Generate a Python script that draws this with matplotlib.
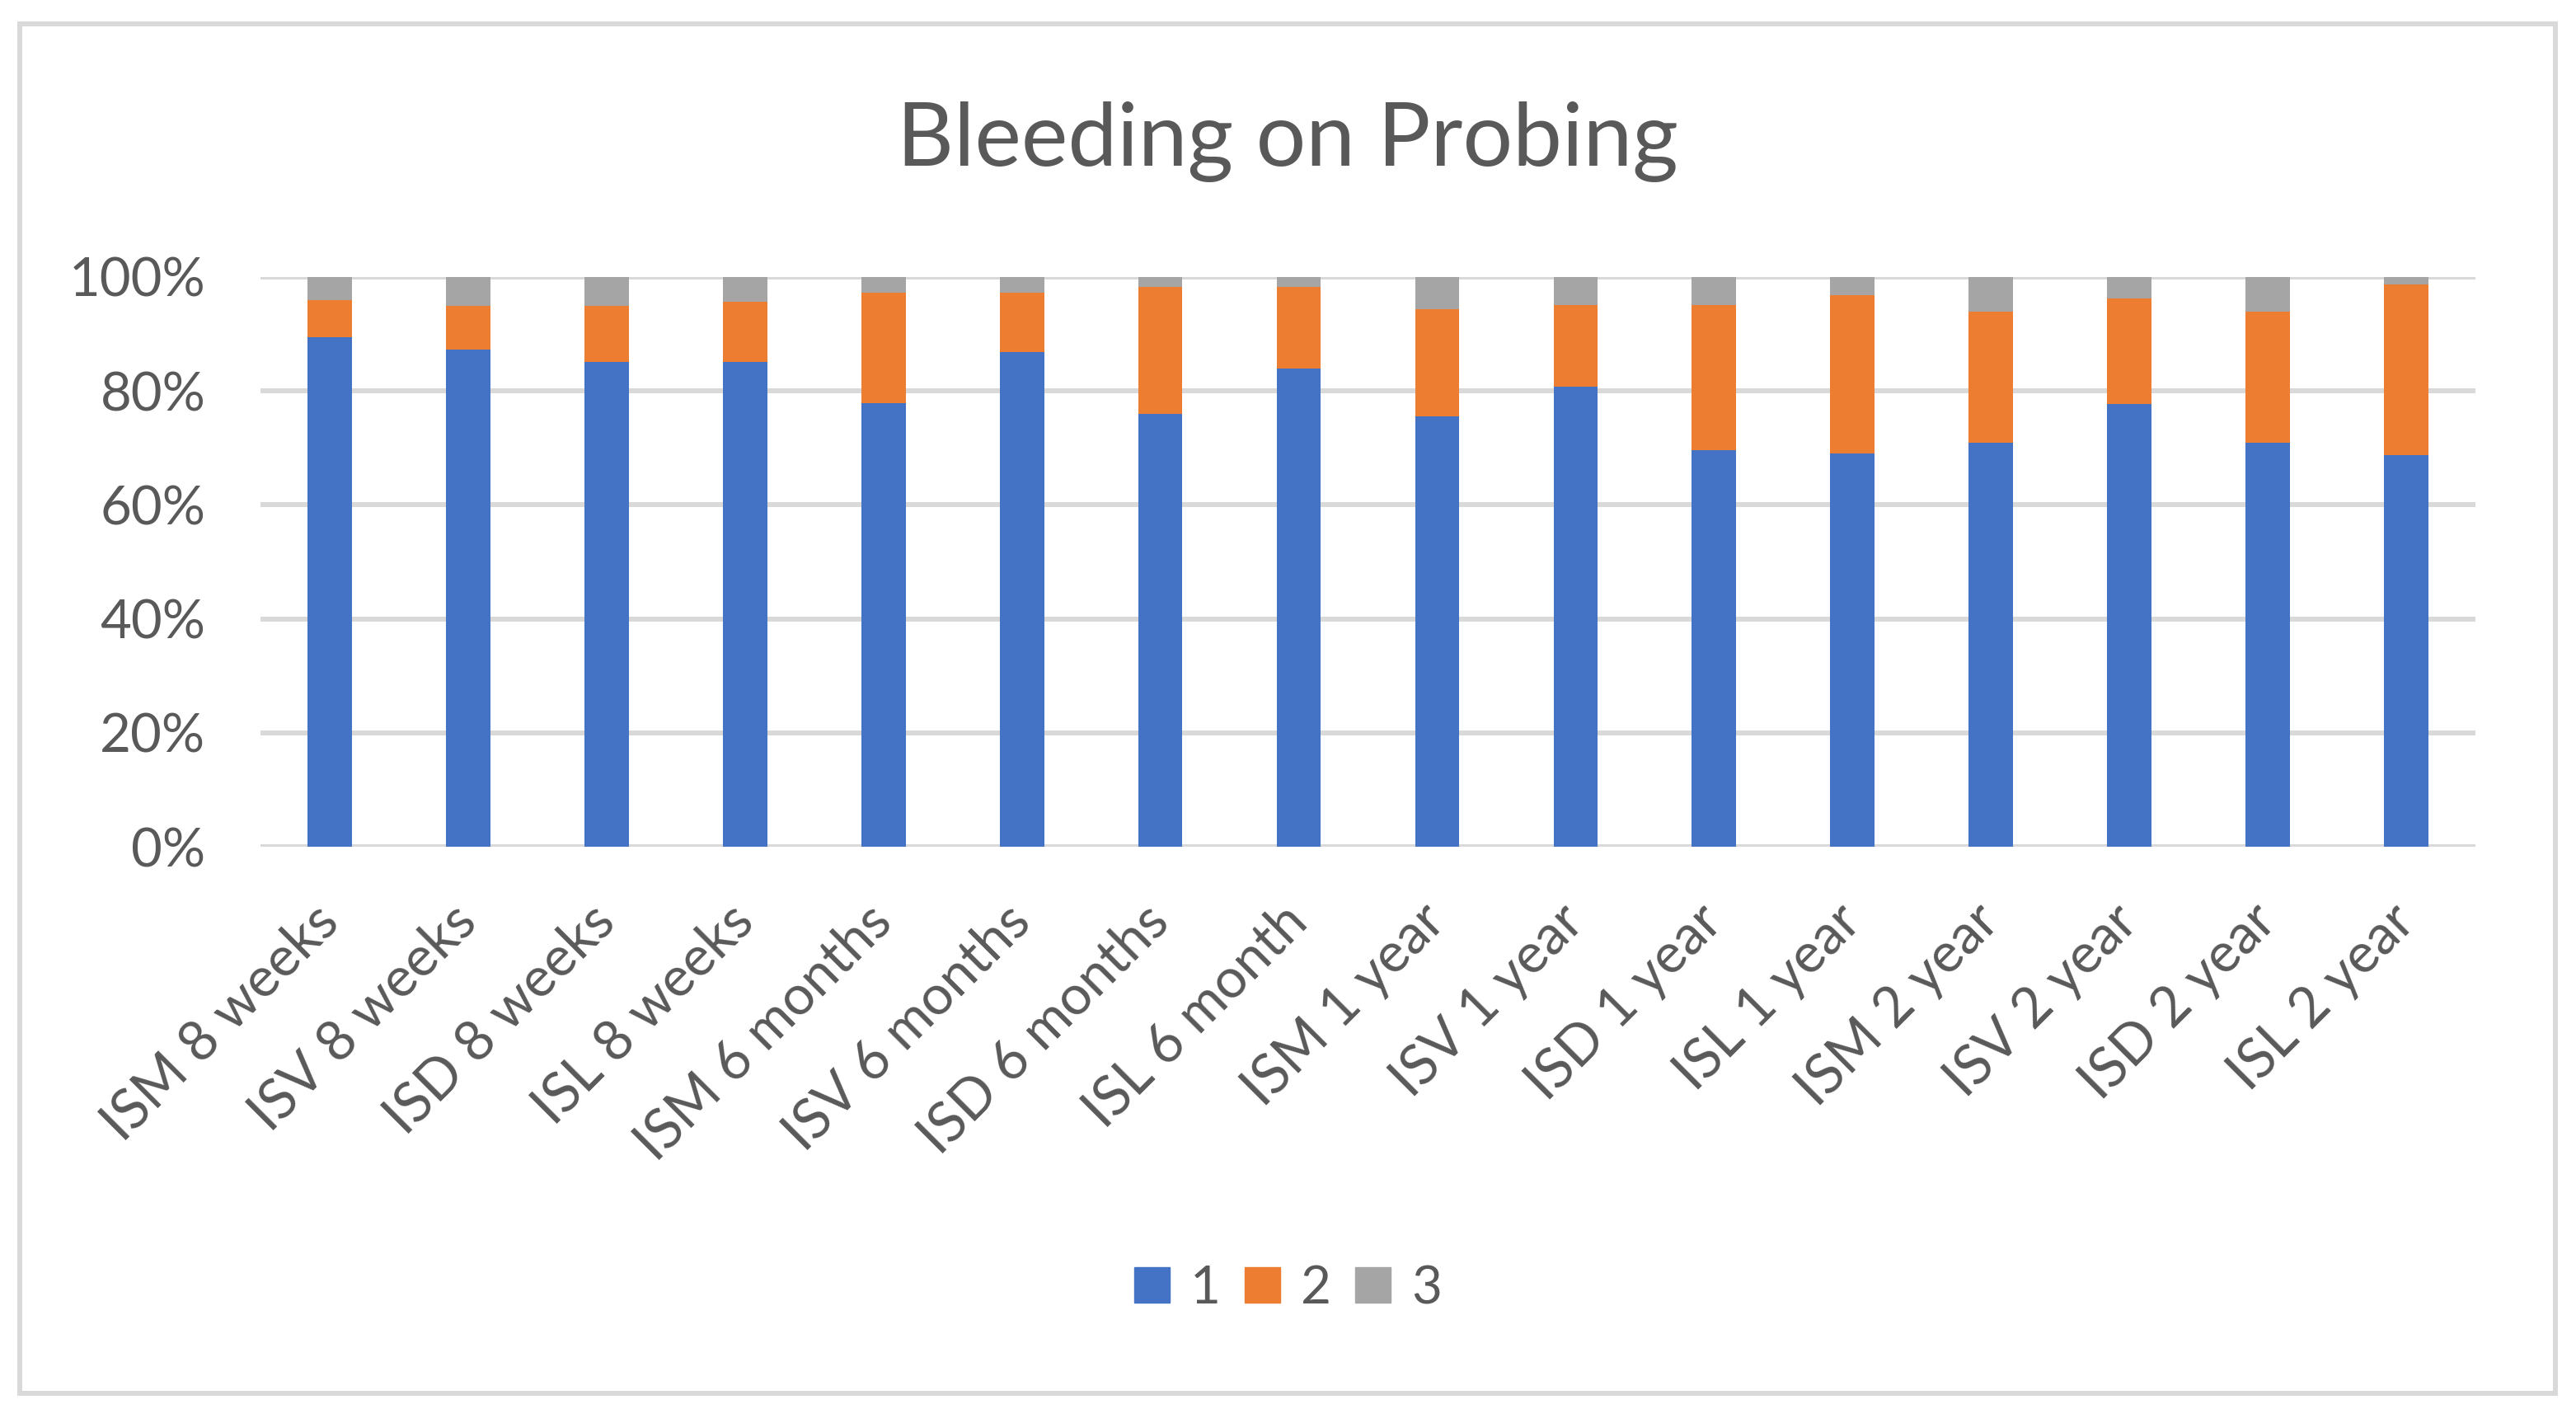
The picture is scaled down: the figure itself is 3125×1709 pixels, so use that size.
import matplotlib.pyplot as plt
import numpy as np
from matplotlib.patches import Rectangle, Patch

# Datos (porcentajes por grupo)
categorias = ["ISM 8 weeks", "ISV 8 weeks", "ISD 8 weeks", "ISL 8 weeks",
              "ISM 6 months", "ISV 6 months", "ISD 6 months", "ISL 6 month",
              "ISM 1 year", "ISV 1 year", "ISD 1 year", "ISL 1 year",
              "ISM 2 year", "ISV 2 year", "ISD 2 year", "ISL 2 year"]
serie_1 = [89.5, 87.2, 85.1, 85.1, 77.8, 86.9, 76.0, 84.0,
           75.6, 80.7, 69.6, 69.1, 70.9, 77.7, 70.9, 68.7]
serie_2 = [6.5, 7.8, 9.9, 10.5, 19.4, 10.3, 22.2, 14.2,
           18.8, 14.4, 25.5, 27.7, 23.0, 18.5, 23.0, 30.0]
serie_3 = [4.0, 5.0, 5.0, 4.4, 2.8, 2.8, 1.8, 1.8,
           5.6, 4.9, 4.9, 3.2, 6.1, 3.8, 6.1, 1.3]
nombres = ["1", "2", "3"]
colores = ["#4472C4", "#ED7D31", "#A5A5A5"]

plt.rcParams['font.family'] = ['Lato', 'DejaVu Sans']
gris_texto = "#595959"
gris_linea = "#D9D9D9"

W, H = 3125, 1709
fig = plt.figure(figsize=(W / 100, H / 100), dpi=100)
ax = fig.add_axes([316 / W, 1 - 1027 / H, (3003 - 316) / W, (1027 - 336) / H])

# Normalizamos a 100%
datos = np.array([serie_1, serie_2, serie_3], dtype=float)
datos = datos / datos.sum(axis=0) * 100

x = np.arange(len(categorias))
base = np.zeros(len(categorias))
for vals, nom, col in zip(datos, nombres, colores):
    ax.bar(x, vals, 0.32, bottom=base, color=col, label=nom, zorder=3)
    base += vals

ax.set_xlim(-0.5, len(categorias) - 0.5)
ax.set_ylim(0, 100)
ax.set_yticks(np.arange(0, 101, 20))
ax.set_yticklabels([f"{v}%" for v in range(0, 101, 20)])
ax.yaxis.grid(True, color=gris_linea, linewidth=4.3, zorder=0)
ax.set_axisbelow(True)
for s in ax.spines.values():
    s.set_visible(False)
ax.tick_params(axis='both', length=0, labelcolor=gris_texto)
ax.tick_params(axis='y', pad=48, labelsize=47)
ax.tick_params(axis='x', pad=58, labelsize=48)
ax.set_xticks(x)
ax.set_xticklabels(categorias, rotation=45, ha='right', va='center',
                   rotation_mode='anchor')

# Titulo
fig.text(0.5, 1 - 201 / H, "Bleeding on Probing", ha='center', va='baseline',
         fontsize=77, color=gris_texto)

# Leyenda
handles = [Patch(color=c, label=n) for c, n in zip(colores, nombres)]
fig.legend(handles=handles, loc='center', bbox_to_anchor=(0.5, 1 - 1563 / H),
           ncol=3, frameon=False, fontsize=46, labelcolor=gris_texto,
           handlelength=0.67, handleheight=0.67, handletextpad=0.4,
           columnspacing=0.45)

# Borde del grafico
fig.patches.append(Rectangle((24 / W, 1 - 1690 / H), (3100 - 24) / W, (1690 - 29) / H,
                             transform=fig.transFigure, fill=False,
                             edgecolor=gris_linea, linewidth=4.3))

fig.savefig("out.png", dpi=100, facecolor="white")
